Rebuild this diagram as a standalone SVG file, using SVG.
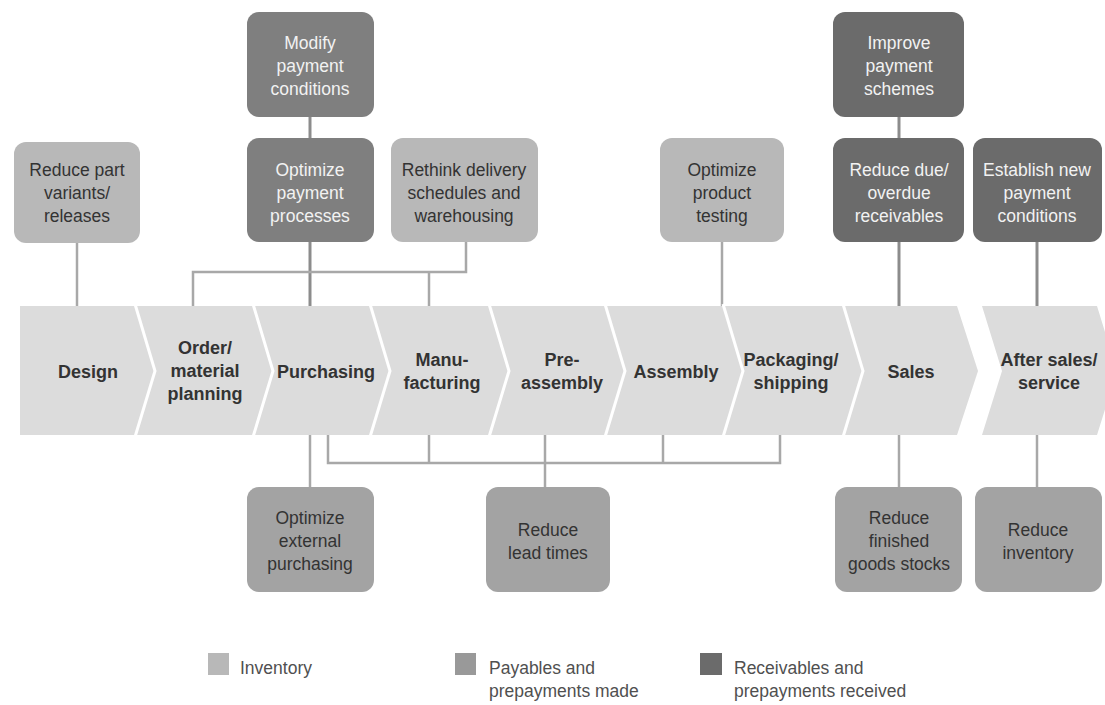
<svg xmlns="http://www.w3.org/2000/svg" width="1105" height="705" viewBox="0 0 1105 705">
<style>
.band{fill:#dcdcdc}
.div{fill:none;stroke:#ffffff;stroke-width:3}
.bt{font-family:"Liberation Sans",Arial,sans-serif;font-weight:bold;font-size:18px;fill:#333333;text-anchor:middle}
.inv{fill:#b8b8b8}
.pay{fill:#7f7f7f}
.rec{fill:#6b6b6b}
.low{fill:#a3a3a3}
.tx{font-family:"Liberation Sans",Arial,sans-serif;font-size:17.5px;text-anchor:middle}
.dk{fill:#333333}
.lt{fill:#f2f2f2}
.c1{fill:none;stroke:#8c8c8c;stroke-width:3}
.c2{fill:none;stroke:#a8a8a8;stroke-width:2.5}
.lg{font-family:"Liberation Sans",Arial,sans-serif;font-size:17.5px;fill:#505050}
</style>
<rect width="1105" height="705" fill="#ffffff"/>

<g id="connectors">
  <line class="c2" x1="77" y1="243" x2="77" y2="306"/>
  <line class="c1" x1="310" y1="117" x2="310" y2="139"/>
  <line class="c1" x1="310" y1="241" x2="310" y2="306"/>
  <polyline class="c2" points="466,241 466,272 193,272 193,306"/>
  <line class="c2" x1="429" y1="272" x2="429" y2="306"/>
  <line class="c2" x1="722" y1="241" x2="722" y2="306"/>
  <line class="c1" x1="899" y1="117" x2="899" y2="139"/>
  <line class="c1" x1="899" y1="241" x2="899" y2="306"/>
  <line class="c1" x1="1037" y1="241" x2="1037" y2="306"/>
  <line class="c2" x1="310" y1="435" x2="310" y2="488"/>
  <polyline class="c2" points="328,435 328,463 780,463 780,435"/>
  <line class="c2" x1="429" y1="435" x2="429" y2="463"/>
  <line class="c2" x1="663" y1="435" x2="663" y2="463"/>
  <line class="c2" x1="545" y1="435" x2="545" y2="488"/>
  <line class="c2" x1="899" y1="435" x2="899" y2="488"/>
  <line class="c2" x1="1037" y1="435" x2="1037" y2="488"/>
</g>

<g id="band">
  <polygon class="band" points="20,306 957,306 978,371 957,435 20,435"/>
  <polygon class="band" points="982,306 1097,306 1117,371 1097,435 982,435 1002,371"/>
  <polyline class="div" points="135,304 155,371 135,437"/>
  <polyline class="div" points="253,304 273,371 253,437"/>
  <polyline class="div" points="370,304 390,371 370,437"/>
  <polyline class="div" points="489,304 509,371 489,437"/>
  <polyline class="div" points="605,304 625,371 605,437"/>
  <polyline class="div" points="723,304 743,371 723,437"/>
  <polyline class="div" points="843,304 863,371 843,437"/>
</g>

<g id="step-design"><text class="bt" x="88" y="378">Design</text></g>
<g id="step-order"><text class="bt" x="205" y="354">Order/</text><text class="bt" x="205" y="377">material</text><text class="bt" x="205" y="400">planning</text></g>
<g id="step-purchasing"><text class="bt" x="326" y="378">Purchasing</text></g>
<g id="step-manufacturing"><text class="bt" x="442" y="366">Manu-</text><text class="bt" x="442" y="389">facturing</text></g>
<g id="step-preassembly"><text class="bt" x="562" y="366">Pre-</text><text class="bt" x="562" y="389">assembly</text></g>
<g id="step-assembly"><text class="bt" x="676" y="378">Assembly</text></g>
<g id="step-packaging"><text class="bt" x="791" y="366">Packaging/</text><text class="bt" x="791" y="389">shipping</text></g>
<g id="step-sales"><text class="bt" x="911" y="378">Sales</text></g>
<g id="step-aftersales"><text class="bt" x="1049" y="366">After sales/</text><text class="bt" x="1049" y="389">service</text></g>

<g id="n-reduce-part">
  <rect class="inv" x="14" y="142" width="126" height="101" rx="12"/>
  <text class="tx dk" x="77" y="176">Reduce part</text><text class="tx dk" x="77" y="199">variants/</text><text class="tx dk" x="77" y="222">releases</text>
</g>
<g id="n-modify">
  <rect class="pay" x="247" y="12" width="127" height="105" rx="12"/>
  <text class="tx lt" x="310" y="49">Modify</text><text class="tx lt" x="310" y="72">payment</text><text class="tx lt" x="310" y="95">conditions</text>
</g>
<g id="n-optimize-payment">
  <rect class="pay" x="247" y="138" width="127" height="104" rx="12"/>
  <text class="tx lt" x="310" y="176">Optimize</text><text class="tx lt" x="310" y="199">payment</text><text class="tx lt" x="310" y="222">processes</text>
</g>
<g id="n-rethink">
  <rect class="inv" x="391" y="138" width="147" height="104" rx="12"/>
  <text class="tx dk" x="464" y="176">Rethink delivery</text><text class="tx dk" x="464" y="199">schedules and</text><text class="tx dk" x="464" y="222">warehousing</text>
</g>
<g id="n-product-testing">
  <rect class="inv" x="660" y="138" width="124" height="104" rx="12"/>
  <text class="tx dk" x="722" y="176">Optimize</text><text class="tx dk" x="722" y="199">product</text><text class="tx dk" x="722" y="222">testing</text>
</g>
<g id="n-improve">
  <rect class="rec" x="833" y="12" width="131" height="105" rx="12"/>
  <text class="tx lt" x="899" y="49">Improve</text><text class="tx lt" x="899" y="72">payment</text><text class="tx lt" x="899" y="95">schemes</text>
</g>
<g id="n-reduce-due">
  <rect class="rec" x="833" y="138" width="131" height="104" rx="12"/>
  <text class="tx lt" x="899" y="176">Reduce due/</text><text class="tx lt" x="899" y="199">overdue</text><text class="tx lt" x="899" y="222">receivables</text>
</g>
<g id="n-establish">
  <rect class="rec" x="973" y="138" width="129" height="104" rx="12"/>
  <text class="tx lt" x="1037" y="176">Establish new</text><text class="tx lt" x="1037" y="199">payment</text><text class="tx lt" x="1037" y="222">conditions</text>
</g>
<g id="n-external">
  <rect class="low" x="247" y="487" width="127" height="105" rx="12"/>
  <text class="tx dk" x="310" y="524">Optimize</text><text class="tx dk" x="310" y="547">external</text><text class="tx dk" x="310" y="570">purchasing</text>
</g>
<g id="n-lead-times">
  <rect class="low" x="486" y="487" width="124" height="105" rx="12"/>
  <text class="tx dk" x="548" y="536">Reduce</text><text class="tx dk" x="548" y="559">lead times</text>
</g>
<g id="n-finished">
  <rect class="low" x="835" y="487" width="127" height="105" rx="12"/>
  <text class="tx dk" x="899" y="524">Reduce</text><text class="tx dk" x="899" y="547">finished</text><text class="tx dk" x="899" y="570">goods stocks</text>
</g>
<g id="n-inventory">
  <rect class="low" x="975" y="487" width="127" height="105" rx="12"/>
  <text class="tx dk" x="1038" y="536">Reduce</text><text class="tx dk" x="1038" y="559">inventory</text>
</g>

<g id="legend">
  <rect x="208" y="653" width="21" height="22" fill="#b8b8b8"/>
  <text class="lg" x="240" y="674">Inventory</text>
  <rect x="455" y="653" width="21" height="22" fill="#999999"/>
  <text class="lg" x="489" y="674">Payables and</text>
  <text class="lg" x="489" y="697">prepayments made</text>
  <rect x="700" y="653" width="22" height="22" fill="#6b6b6b"/>
  <text class="lg" x="734" y="674">Receivables and</text>
  <text class="lg" x="734" y="697">prepayments received</text>
</g>
</svg>
